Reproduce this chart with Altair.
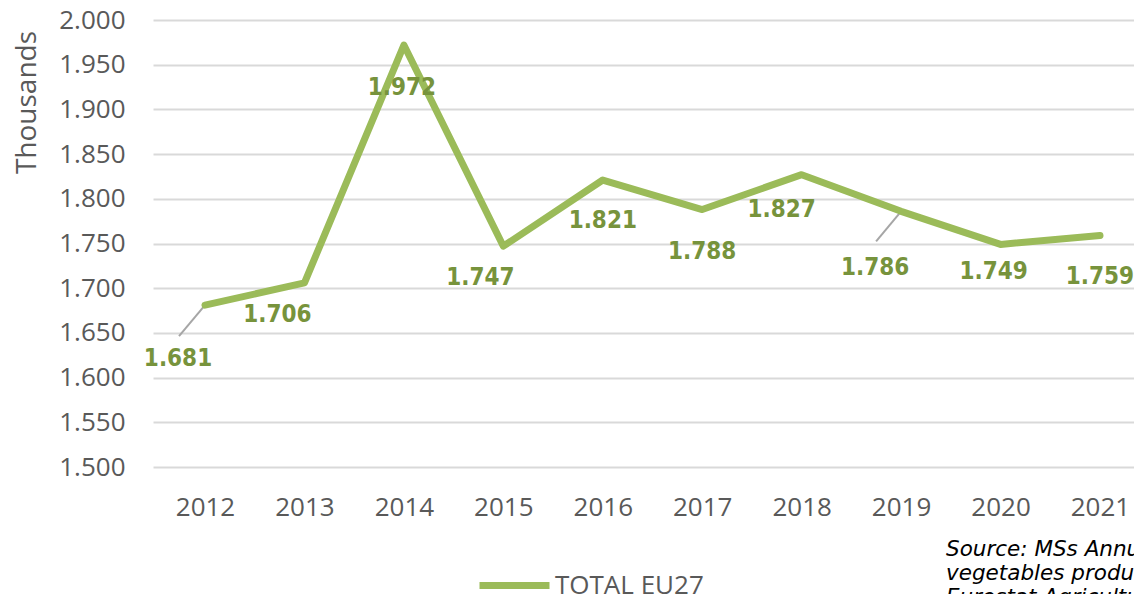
import altair as alt
import pandas as pd

years = [2012, 2013, 2014, 2015, 2016, 2017, 2018, 2019, 2020, 2021]
values = [1681, 1706, 1972, 1747, 1821, 1788, 1827, 1786, 1749, 1759]
series_name = "TOTAL EU27"
y_ticks = list(range(1500, 2001, 50))
# label placement offsets (pixels) relative to each point
label_dx = [-27, -27, -2, -23, 0, 0, -20, -26, -7, 0]
label_dy = [54, 32, 43, 32, 41, 42, 35, 57, 28, 42]
source_lines = ["Source: MSs Annual notifications on fruit and",
                "vegetables production",
                "Eurostat Agricultural database"]

df = pd.DataFrame({"year": years, "value": values, "series": [series_name] * len(years)})

GREEN = "#9BBB59"
LABEL_GREEN = "#77933C"
GRAY = "#595959"
AXFONT = "Open Sans"

x_enc = alt.X("year:Q", scale=alt.Scale(domain=[2011.477, 2021.342], nice=False, zero=False),
              axis=alt.Axis(values=years, format="d", grid=False, domain=False, ticks=False,
                            labelPadding=27, labelFont=AXFONT, labelFontSize=26, labelColor=GRAY,
                            title=None))
y_enc = alt.Y("value:Q", scale=alt.Scale(domain=[1500, 2000], nice=False, zero=False),
              axis=alt.Axis(values=y_ticks,
                            labelExpr="replace(format(datum.value, ',.0f'), ',', '.')",
                            grid=True, gridColor="#d9d9d9", gridWidth=2, domain=False, ticks=False,
                            labelPadding=28, labelFont=AXFONT, labelFontSize=26, labelColor=GRAY,
                            title="Thousands", titleX=-126, titleY=82, titleAngle=-90,
                            titleAlign="center", titleBaseline="middle", titleFont=AXFONT,
                            titleFontSize=28, titleFontWeight="normal", titleColor=GRAY))

base = alt.Chart(df)

leader1 = base.transform_filter(alt.datum.year == 2012).mark_rule(
    color="#a6a6a6", strokeWidth=2, x2Offset=-26, y2Offset=31
).encode(x=x_enc, y=y_enc, x2="year:Q", y2="value:Q")
leader2 = base.transform_filter(alt.datum.year == 2019).mark_rule(
    color="#a6a6a6", strokeWidth=2, x2Offset=-25, y2Offset=30
).encode(x="year:Q", y="value:Q", x2="year:Q", y2="value:Q")

line = base.mark_line(strokeWidth=7, strokeCap="round", strokeJoin="round").encode(
    x="year:Q", y="value:Q",
    color=alt.Color("series:N", scale=alt.Scale(range=[GREEN]),
                    legend=alt.Legend(orient="none", legendX=323, legendY=527, title=None,
                                      symbolType="stroke", symbolStrokeWidth=7, symbolSize=4900,
                                      labelFont=AXFONT, labelFontSize=26, labelColor=GRAY,
                                      labelOffset=2, padding=0))
)

labels = []
for yr, dx, dy in zip(years, label_dx, label_dy):
    labels.append(
        base.transform_filter(alt.datum.year == yr).mark_text(
            dx=dx, dy=dy, font="DejaVu Sans Condensed", fontWeight="bold", fontSize=24,
            color=LABEL_GREEN, align="center", baseline="middle"
        ).encode(x="year:Q", y="value:Q",
                 text=alt.Text("label:N"))
        .transform_calculate(label="replace(format(datum.value, ',.0f'), ',', '.')")
    )

src = alt.Chart(pd.DataFrame({"t": ["\n".join(source_lines)]})).mark_text(
    align="left", baseline="middle", font="DejaVu Sans", fontStyle="italic", fontSize=21.5,
    color="#000000", lineBreak="\n", lineHeight=24
).encode(x=alt.value(793), y=alt.value(530), text="t:N")

chart = alt.layer(leader1, leader2, line, *labels, src).properties(
    width=981, height=447,
    padding={"left": 145, "top": 12, "right": 0, "bottom": 127},
    autosize=alt.AutoSizeParams(type="none"),
).configure_view(stroke=None)

chart.save("out.html", embed_options={"renderer": "svg", "actions": False})
